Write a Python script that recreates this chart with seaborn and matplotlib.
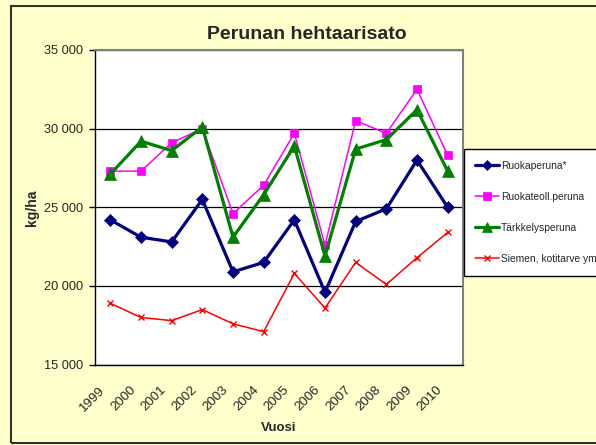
import matplotlib
matplotlib.use("Agg")
import matplotlib.pyplot as plt
import matplotlib.transforms as mtransforms
from matplotlib.patches import Rectangle
from matplotlib.ticker import FuncFormatter, FixedLocator
import seaborn as sns
import pandas as pd

years = ["1999", "2000", "2001", "2002", "2003", "2004", "2005",
         "2006", "2007", "2008", "2009", "2010"]
ruokaperuna = [24200, 23100, 22800, 25500, 20900, 21500, 24200,
               19600, 24100, 24900, 28000, 25000]
ruokateoll = [27300, 27300, 29100, 30000, 24600, 26400, 29700,
              22600, 30500, 29700, 32500, 28300]
tarkkely = [27100, 29200, 28600, 30100, 23100, 25800, 28900,
            21900, 28700, 29300, 31200, 27300]
siemen = [18900, 18000, 17800, 18500, 17600, 17100, 20800,
          18600, 21500, 20100, 21800, 23400]
series_names = ["Ruokaperuna*", "Ruokateoll.peruna", "Tärkkelysperuna",
                "Siemen, kotitarve ym"]
y_ticks = [15000, 20000, 25000, 30000, 35000]

sns.set_style("white")
plt.rcParams["font.family"] = ["Liberation Sans", "DejaVu Sans"]

W, H = 596, 445
fig = plt.figure(figsize=(W / 100, H / 100), dpi=100, facecolor="#FFFFCC")
ax = fig.add_axes([95 / W, 1 - 364.7 / H, 368 / W, 314.8 / H])
ax.set_facecolor("white")

styles = [
    dict(color="#000080", marker="D", lw=2.3, ms=6.5, mew=0.5),
    dict(color="#FF00FF", marker="s", lw=1.1, ms=6.3, mew=0.5),
    dict(color="#008000", marker="^", lw=2.3, ms=8, mew=0.5),
    dict(color="#FF0000", marker="x", lw=1.1, ms=4.5, mew=1.0),
]
all_vals = [ruokaperuna, ruokateoll, tarkkely, siemen]
pos = list(range(len(years)))
for name, vals, st in zip(series_names, all_vals, styles):
    df = pd.DataFrame({"x": pos, "y": vals})
    sns.lineplot(data=df, x="x", y="y", ax=ax, label=name,
                 color=st["color"], marker=st["marker"], linewidth=st["lw"],
                 markersize=st["ms"], markeredgewidth=st["mew"],
                 markeredgecolor=st["color"], markerfacecolor=st["color"],
                 clip_on=False)

ax.set_xlim(-0.5, len(years) - 0.5)
ax.set_ylim(15000, 35000)
ax.set_yticks(y_ticks)
ax.yaxis.set_major_formatter(FuncFormatter(lambda v, p: f"{int(v):,}".replace(",", " ")))
ax.set_xticks(pos)
ax.set_xticklabels(years)
ax.xaxis.set_minor_locator(FixedLocator([i - 0.5 for i in range(len(years) + 1)]))
ax.tick_params(axis="x", which="major", length=0, pad=17, labelsize=9.6)
ax.tick_params(axis="x", which="minor", length=5, width=1, color="black", direction="out")
ax.tick_params(axis="y", which="major", length=4, width=1, color="black",
               direction="out", pad=4.7, labelsize=9.2)
ax.tick_params(left=True, bottom=True)

offset = mtransforms.ScaledTranslation(-7 / 100, 0, fig.dpi_scale_trans)
for lab in ax.get_xticklabels():
    lab.set_rotation(45)
    lab.set_ha("right")
    lab.set_va("center")
    lab.set_rotation_mode("anchor")
    lab.set_transform(lab.get_transform() + offset)

ax.grid(axis="y", color="black", lw=0.9)
ax.grid(axis="x", visible=False)
ax.set_axisbelow(True)
for s in ["left", "bottom"]:
    ax.spines[s].set_color("black")
    ax.spines[s].set_linewidth(1.0)
for s in ["top", "right"]:
    ax.spines[s].set_color("#808080")
    ax.spines[s].set_linewidth(1.5)
ax.set_xlabel("")
ax.set_ylabel("")

if ax.legend_:
    ax.legend_.remove()
handles, labels = ax.get_legend_handles_labels()
leg = fig.legend(handles, labels, loc="upper left",
                 bbox_to_anchor=(463.5 / W, 1 - 149 / H),
                 bbox_transform=fig.transFigure, borderaxespad=0,
                 fontsize=7.4, frameon=True, fancybox=False,
                 facecolor="white", edgecolor="black", framealpha=1,
                 handlelength=2.3, handletextpad=0.2, labelspacing=2.05,
                 borderpad=1.15, markerscale=0.85)
leg.get_frame().set_linewidth(1.0)

fig.text(307 / W, 1 - 39 / H, "Perunan hehtaarisato", ha="center", va="baseline",
         fontsize=14, fontweight="bold")
fig.text(31.5 / W, 1 - 207.5 / H, "kg/ha", ha="center", va="center",
         rotation=90, fontsize=10, fontweight="bold")
fig.text(279 / W, 1 - 428 / H, "Vuosi", ha="center", va="center",
         fontsize=9.5, fontweight="bold")

fig.patches.append(Rectangle((11 / W, 1 - 443 / H), (620 - 11) / W, (443 - 5.5) / H,
                             transform=fig.transFigure, fill=False,
                             edgecolor="#333333", lw=1.5, zorder=10))

fig.savefig("out.png", dpi=100, facecolor=fig.get_facecolor())
